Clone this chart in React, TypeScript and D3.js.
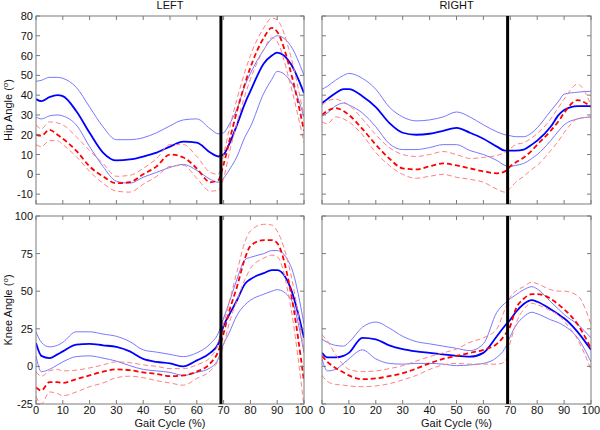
import React from "react";
import * as d3 from "d3";

const X = [0,2,5,8,10,15,20,25,30,35,40,45,50,55,60,65,68,70,72,75,78,80,85,88,90,95,100];

const hipLeftBlueMean = [38,37,39,40,39.5,32,21,11,7,7.5,9,11,14,16.5,16,11,9,10,15,25,36,42,56,60,61.5,56,41];
const hipLeftBlueUpper = [47,47.5,49,49,48.5,44,34,24,17.5,17.5,18.5,21,24.5,27.5,28,23,20.5,21,25,33,45,51,63,68.5,70,65,50];
const hipLeftBlueLower = [29,28,29.5,30,29.5,25,14,4,-3.5,-4.5,-1.5,1,3.5,5,2,-2.5,-4,-2,2,9,19,24,41,48,52,47,29];
const hipLeftRedMean = [20,19.5,22.5,20,18,12,4,-1,-4.5,-4,0,4,10,8.5,3,-4,-3,5,16,32,46,54,69,74,72,52,22];
const hipLeftRedUpper = [25,23,26.5,26,25,19,12,5.5,-1,-0.5,3,8,15,15,9,1,0,10,22,38,52,60,74,79,78,60,29];
const hipLeftRedLower = [15,14,17,17,15,9,1.5,-4.5,-8.5,-9,-5,-1,4,4.5,-2,-8.5,-8,-2,10,26,40,48,63,69,67,45,16];

const hipRightBlueMean = [36,38,41,43,43,39.5,34,26,21,20,20.5,22,23.5,21,18,14,12,12,12,12.5,15,17,24,30,32.5,34.5,34.5];
const hipRightBlueUpper = [43,44.5,47.5,50,51,48.5,43,34,29,27,27.5,29,31.5,29,25,21.5,20,19.5,19,19,21,23.5,32,37,40.5,41.5,42];
const hipRightBlueLower = [29.5,31,34.5,36,35,31,24,15.5,12.5,12.5,13.5,15,15,12,10,7,4.5,4,4.5,5.5,8,10,17,22,25,28,29];
const hipRightRedMean = [30,32,33.5,32,30,23,15,8,3,2.5,4,5.5,4.5,3,1.5,0.5,1.5,4,6,8.5,12,15,22,27,31,37.5,34];
const hipRightRedUpper = [35,37,38,36.5,35,28,20,13.5,10,9,10,11.5,10,8,8.5,9.5,11,13,15,16,18.5,20.5,28,34,38,45.5,35];
const hipRightRedLower = [26.5,25.5,29,28,26.5,20,11,4.5,0,-2,-1,0,-1.5,-2.5,-4,-7.5,-9,-7,-4,-1,2.5,4.5,12,17,21,28,29];

const kneeLeftBlueMean = [15.5,7,5.5,8,10,14.5,15,14,13,10,5,3,2,0,4,9,15,27,34,44,55,58,62,64,64,52,19];
const kneeLeftBlueUpper = [23,16,13,14,16,23,23,21.5,20,16.5,11,9.5,8,6.5,9,15,22,32,42,58,71,72.5,75,77,77,67,28];
const kneeLeftBlueLower = [7,-3.5,-2,1,3,6.5,7,5.5,3.5,0.5,-2,-3,-4,-6,-4,-1,5,15,22,34,41,44,48,50,51,45,9];
const kneeLeftRedMean = [-14,-16,-10.5,-10.5,-11,-8.5,-6,-3.5,-2,-2.5,-4,-5,-6.5,-6,-3.5,2,10,22,36,53,72,80,84,84,82,50,-10];
const kneeLeftRedUpper = [-3.5,-6.5,-3,-2,-3,-2.5,-1,1,3,2.5,1,0,-1.5,-1.5,1,6,15,28,42,63,83,90,94.5,94,90,62,10];
const kneeLeftRedLower = [-20,-25,-17,-18,-19.5,-17,-13.5,-11,-7.5,-6.5,-7.5,-9.5,-11,-12.5,-8,-3,4,14,28,44,58,65,72,74,73,40,-27];

const kneeRightBlueMean = [9,6,6,7,9,19,18,14,11.5,10,9,8,7,6.5,9,20,27,31,36,41.5,44,43,38,34.5,32,23,11];
const kneeRightBlueUpper = [18,16,14,13.5,16,26,29.5,25.5,20,16.5,15,13.5,12,10.5,15,36,42,45,47.5,51,53,51.5,43,38,34.5,28,19];
const kneeRightBlueLower = [5,-3,-2,2,5,11,5,2,1.5,2,2,1.5,0.5,1,2,6,12,20,27,33,36,35,31,29,27,19,3];
const kneeRightRedMean = [7,3,-1,-4,-6,-8.5,-8,-6.5,-4.5,-1.5,2,5,7,9,11,15,21,27,38,45,48,48,45,41,38,28,12];
const kneeRightRedUpper = [21,17,8,1,-2,-3.5,-3,-1.5,0.5,3.5,6.5,9,11.5,16,19,25,38,46,50,53,56,55,51,50,50,47,28];
const kneeRightRedLower = [-6,-10,-12,-12.5,-13,-13.5,-13,-11.5,-9,-6,-2,1,2,1.5,1.5,1.5,3,16,28,38,42,41,37,34,30,18,-2];

const xTicks = [0,10,20,30,40,50,60,70,80,90,100];
const hipTicks = [-10,0,10,20,30,40,50,60,70,80];
const kneeTicks = [-25,0,25,50,75,100];
const hipDomain = [-15, 80];
const kneeDomain = [-25, 100];
const toeOff = 69;

const FONT = "'Liberation Sans', Arial, sans-serif";

type PanelProps = {
  id: string; x0: number; x1: number; y0: number; y1: number;
  domain: number[]; yTicks: number[];
  blue: number[][]; red: number[][];
  showY: boolean; showX: boolean; title?: string; yLabel?: string;
};

function Panel(p: PanelProps) {
  const xs = d3.scaleLinear().domain([0, 100]).range([p.x0, p.x1]);
  const ys = d3.scaleLinear().domain(p.domain).range([p.y1, p.y0]);
  const line = d3.line<number>().x((_, i) => xs(X[i])).y((d) => ys(d)).curve(d3.curveMonotoneX);
  const tl = 4;
  const frame = "#7a7a7a";
  return (
    <g>
      <defs>
        <clipPath id={p.id}>
          <rect x={p.x0} y={p.y0} width={p.x1 - p.x0} height={p.y1 - p.y0} />
        </clipPath>
      </defs>
      <g clipPath={`url(#${p.id})`}>
        <path d={line(p.blue[1]) || ""} fill="none" stroke="#7878ff" strokeWidth={1} />
        <path d={line(p.blue[2]) || ""} fill="none" stroke="#7878ff" strokeWidth={1} />
        <path d={line(p.blue[0]) || ""} fill="none" stroke="#0000ff" strokeWidth={1.8} />
        <path d={line(p.red[1]) || ""} fill="none" stroke="#ff8080" strokeWidth={1} strokeDasharray="5,3" />
        <path d={line(p.red[2]) || ""} fill="none" stroke="#ff8080" strokeWidth={1} strokeDasharray="5,3" />
        <path d={line(p.red[0]) || ""} fill="none" stroke="#ff0000" strokeWidth={1.8} strokeDasharray="5,3" />
      </g>
      {xTicks.map((t) => (
        <g key={"xt" + t}>
          <line x1={xs(t)} x2={xs(t)} y1={p.y1} y2={p.y1 - tl} stroke={frame} strokeWidth={1} />
          <line x1={xs(t)} x2={xs(t)} y1={p.y0} y2={p.y0 + tl} stroke={frame} strokeWidth={1} />
          {p.showX && (
            <text x={xs(t)} y={p.y1 + 10} textAnchor="middle" fontSize={11} fontFamily={FONT} fill="#111">{t}</text>
          )}
        </g>
      ))}
      {p.yTicks.map((t) => (
        <g key={"yt" + t}>
          <line x1={p.x0} x2={p.x0 + tl} y1={ys(t)} y2={ys(t)} stroke={frame} strokeWidth={1} />
          <line x1={p.x1} x2={p.x1 - tl} y1={ys(t)} y2={ys(t)} stroke={frame} strokeWidth={1} />
          {p.showY && (
            <text x={p.x0 - 3} y={ys(t) + 4} textAnchor="end" fontSize={11} fontFamily={FONT} fill="#111">{t}</text>
          )}
        </g>
      ))}
      <rect x={p.x0} y={p.y0} width={p.x1 - p.x0} height={p.y1 - p.y0} fill="none" stroke={frame} strokeWidth={1} />
      <line x1={xs(toeOff)} x2={xs(toeOff)} y1={p.y0} y2={p.y1} stroke="#000" strokeWidth={3} />
      {p.title && (
        <text x={(p.x0 + p.x1) / 2} y={p.y0 - 7} textAnchor="middle" fontSize={11} fontFamily={FONT} fill="#111">{p.title}</text>
      )}
      {p.yLabel && (
        <text transform={`translate(${p.x0 - 24},${(p.y0 + p.y1) / 2}) rotate(-90)`} textAnchor="middle" fontSize={11} fontFamily={FONT} fill="#111">
          {p.yLabel} (<tspan fontSize={8} dy={-4}>o</tspan><tspan dy={4}>)</tspan>
        </text>
      )}
      {p.showX && (
        <text x={(p.x0 + p.x1) / 2} y={p.y1 + 23} textAnchor="middle" fontSize={11} fontFamily={FONT} fill="#111">Gait Cycle (%)</text>
      )}
    </g>
  );
}

export default function App() {
  return (
    <svg width={600} height={430} style={{ position: "absolute", left: 0, top: 0, background: "#fff" }}>
      <rect x={0} y={0} width={600} height={430} fill="#fff" />
      <Panel id="c1" x0={36} x1={304} y0={16} y1={204} domain={hipDomain} yTicks={hipTicks}
        blue={[hipLeftBlueMean, hipLeftBlueUpper, hipLeftBlueLower]}
        red={[hipLeftRedMean, hipLeftRedUpper, hipLeftRedLower]}
        showY={true} showX={false} title="LEFT" yLabel="Hip Angle" />
      <Panel id="c2" x0={322} x1={591} y0={16} y1={204} domain={hipDomain} yTicks={hipTicks}
        blue={[hipRightBlueMean, hipRightBlueUpper, hipRightBlueLower]}
        red={[hipRightRedMean, hipRightRedUpper, hipRightRedLower]}
        showY={false} showX={false} title="RIGHT" />
      <Panel id="c3" x0={36} x1={304} y0={216} y1={404} domain={kneeDomain} yTicks={kneeTicks}
        blue={[kneeLeftBlueMean, kneeLeftBlueUpper, kneeLeftBlueLower]}
        red={[kneeLeftRedMean, kneeLeftRedUpper, kneeLeftRedLower]}
        showY={true} showX={true} yLabel="Knee Angle" />
      <Panel id="c4" x0={322} x1={591} y0={216} y1={404} domain={kneeDomain} yTicks={kneeTicks}
        blue={[kneeRightBlueMean, kneeRightBlueUpper, kneeRightBlueLower]}
        red={[kneeRightRedMean, kneeRightRedUpper, kneeRightRedLower]}
        showY={false} showX={true} />
    </svg>
  );
}
